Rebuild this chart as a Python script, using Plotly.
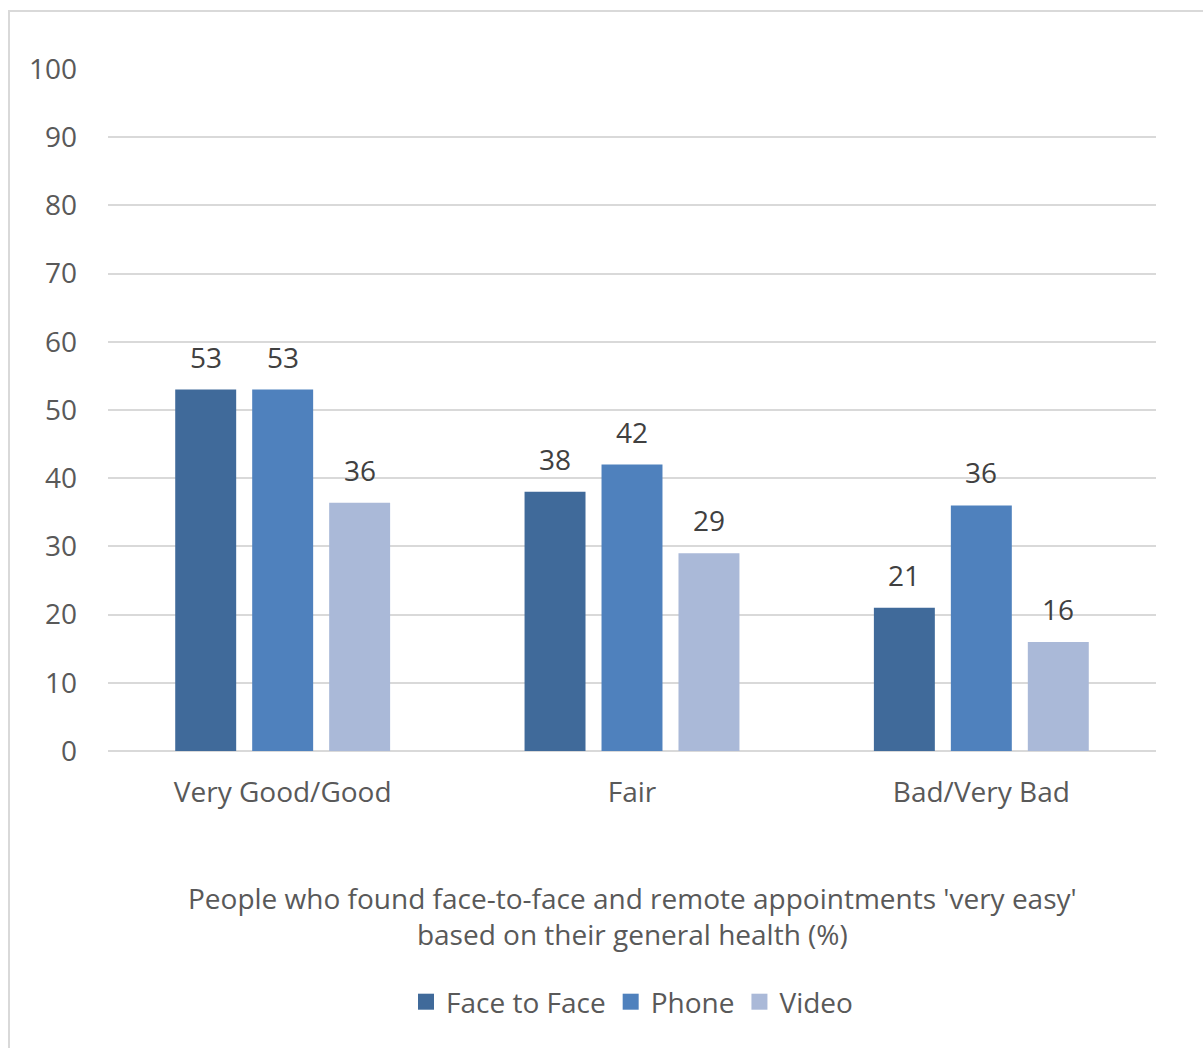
import plotly.graph_objects as go

categories = ["Very Good/Good", "Fair", "Bad/Very Bad"]
face_to_face = [53, 38, 21]
phone = [53, 42, 36]
video = [36.4, 29, 16]
series_names = ["Face to Face", "Phone", "Video"]
colors = ["#406A9A", "#4F81BD", "#AAB9D8"]
title_lines = ["People who found face-to-face and remote appointments 'very easy'",
               "based on their general health (%)"]

FONT = "Open Sans"
FS = 28
W, H = 1203, 1048
L, R, T, B = 108, 47, 69, 297
pw, ph = W - L - R, H - T - B

fig = go.Figure()
series = [face_to_face, phone, video]
for name, vals, col in zip(series_names, series, colors):
    fig.add_trace(go.Bar(
        x=categories, y=vals, name=name, marker=dict(color=col, line=dict(width=0)),
        showlegend=False, legendgroup=name,
    ))
# legend entries with larger square swatches
for name, col in zip(series_names, colors):
    fig.add_trace(go.Scatter(
        x=[None], y=[None], mode="markers", name=name, legendgroup=name,
        marker=dict(symbol="square", size=16, color=col), hoverinfo="skip",
    ))

# data labels as annotations, shifted to each bar within the group
slot = pw / len(categories) * (1 - 0.339) / 3
annotations = []
for i, vals in enumerate(series):
    for cat, v in zip(categories, vals):
        annotations.append(dict(
            x=cat, y=v, xref="x", yref="y", text=f"{v:.0f}", showarrow=False,
            xanchor="center", yanchor="bottom", xshift=(i - 1) * slot, yshift=12,
            font=dict(family=FONT, size=FS, color="#404040")))

def px_x(p):
    return (p - L) / pw

def px_y(p):
    return (H - B - p) / ph

annotations.append(dict(text="<br>".join(title_lines), xref="paper", yref="paper",
                        x=0.5, y=px_y(916), xanchor="center", yanchor="middle",
                        showarrow=False, align="center",
                        font=dict(family=FONT, size=FS, color="#595959")))

fig.update_layout(
    width=W, height=H,
    margin=dict(l=L, r=R, t=T, b=B),
    paper_bgcolor="white", plot_bgcolor="white",
    barmode="group", bargap=0.339, bargroupgap=0.208,
    font=dict(family=FONT, size=FS, color="#595959"),
    xaxis=dict(showgrid=False, ticks="", showline=False, ticklabelstandoff=22,
               tickfont=dict(family=FONT, size=FS, color="#595959")),
    yaxis=dict(range=[0, 100], dtick=10, showgrid=True, gridcolor="#D9D9D9", gridwidth=2,
               zeroline=True, zerolinecolor="#D9D9D9", zerolinewidth=2,
               ticks="", ticklabelstandoff=30,
               tickfont=dict(family=FONT, size=FS, color="#595959")),
    legend=dict(orientation="h", x=0.5, xanchor="center", y=px_y(1002), yanchor="middle",
                font=dict(family=FONT, size=FS, color="#595959"), itemwidth=30,
                itemsizing="trace", traceorder="normal"),
    showlegend=True,
    annotations=annotations,
    shapes=[dict(type="rect", xref="paper", yref="paper",
                 x0=px_x(9), x1=px_x(1260), y0=px_y(1100), y1=px_y(11),
                 line=dict(color="#D9D9D9", width=2), layer="below")],
)

fig.write_html("out.html")
